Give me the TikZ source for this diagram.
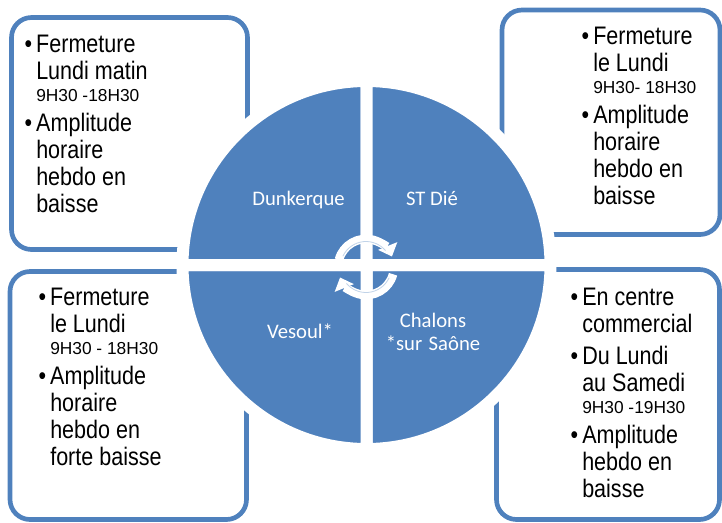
\documentclass[tikz,border=0pt]{standalone}
\usepackage{fontspec}
\setmainfont{Liberation Sans}
\newfontfamily\narrowfont[FakeStretch=0.85]{Liberation Sans}
\newfontfamily\calib{Carlito}
\usepackage{tikz}
\usetikzlibrary{calc,arrows.meta}

\definecolor{bleu}{RGB}{79,129,189}
\newcommand{\puce}{\leavevmode\llap{\textbullet\hspace{3pt}}}
\newcommand{\petit}{\normalfont\fontsize{13}{14}\selectfont}
\newcommand{\serre}{\spaceskip=0pt \xspaceskip=0pt \relax}

\tikzset{
  boxline/.style={draw=bleu, line width=3.5pt, rounded corners=15pt},
  boxtext/.style={anchor=base west, inner sep=0pt, text width=150pt, align=left,
    font=\narrowfont\fontsize{19}{20.25}\selectfont,
    execute at begin node=\serre},
  ville/.style={text=white, inner sep=0pt, anchor=base,
    font=\calib\fontsize{15.5}{17.25}\selectfont,
    execute at begin node=\serre},
  quart/.style={fill=bleu, draw=white, line width=9pt, line join=round},
  cyclearrow/.style={white, line width=6.5pt, -{Triangle[length=8.5pt,width=15pt]}},
}

\begin{document}
\begin{tikzpicture}[x=0.75pt,y=-0.75pt]
\useasboundingbox (0,0) rectangle (722,522);

%Boxes
\draw[boxline] (11.5,17.5) rectangle (247.5,249.5);
\draw[boxline] (502,10) rectangle (720,234.5);
\draw[boxline] (10,271.5) rectangle (246.5,519.5);
\draw[boxline] (496.5,269.5) rectangle (719.5,519.5);

%Box texts
\node[boxtext] (txtdunk) at (36,52) {\puce Fermeture\\
  Lundi matin\\[-3.5pt]
  {\petit 9H30 -18H30}\\[2.25pt]
  \puce Amplitude\\
  horaire\\
  hebdo en\\
  baisse};
\node[boxtext] (txtstdie) at (593,44) {\puce Fermeture\\
  le Lundi\\[-3.5pt]
  {\petit 9H30- 18H30}\\[2.25pt]
  \puce Amplitude\\
  horaire\\
  hebdo en\\
  baisse};
\node[boxtext] (txtvesoul) at (50,305) {\puce Fermeture\\
  le Lundi\\[-3.5pt]
  {\petit 9H30 - 18H30}\\[2.25pt]
  \puce Amplitude\\
  horaire\\
  hebdo en\\
  forte baisse};
\node[boxtext] (txtchalons) at (582,305) {\puce En centre\\
  commercial\\[3.75pt]
  \puce Du Lundi\\
  au Samedi\\[-3.5pt]
  {\petit 9H30 -19H30}\\[2.25pt]
  \puce Amplitude\\
  hebdo en\\
  baisse};

%Circle
\coordinate (centre) at (366.5,265);
\foreach \a in {0,90,180,270}
  \filldraw[quart] (centre) -- ++(\a:184) arc[start angle=\a, end angle=\a+90, radius=184] -- cycle;

%Cycle arrows
\coordinate (mid) at (366,267);
\draw[cyclearrow] ($(mid)+(-165:28)$) arc[start angle=-165, end angle=-22, radius=28];
\draw[cyclearrow] ($(mid)+(15:28)$) arc[start angle=15, end angle=158, radius=28];
\draw[bleu!35, line width=0.6pt] ($(mid)+(-155:25.5)$) arc[start angle=-155, end angle=-40, radius=25.5];
\draw[bleu!35, line width=0.6pt] ($(mid)+(25:25.5)$) arc[start angle=25, end angle=140, radius=25.5];

%Town names
\node[ville] (dunkerque) at (298.5,205) {Dunkerque};
\node[ville] (stdie) at (432,205) {ST Dié};
\node[ville] (vesoul) at (300,338) {Vesoul*};
\node[ville, text width=120pt, align=center] (chalons) at (433,327) {Chalons\\\mbox{*}sur Saône};

\end{tikzpicture}
\end{document}
